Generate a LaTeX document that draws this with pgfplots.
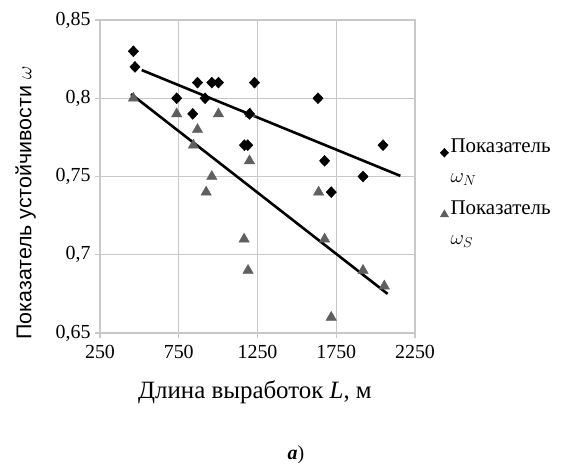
\documentclass[border=0pt]{standalone}
\usepackage{fontspec}
\setmainfont{Liberation Serif}
\setsansfont{Liberation Sans}
\usepackage{pgfplots}
\pgfplotsset{compat=1.18}
\definecolor{gridgray}{RGB}{200,200,200}
\definecolor{trigray}{RGB}{95,95,95}
\begin{document}
\begin{tikzpicture}[x=1bp,y=1bp]
\path[use as bounding box] (0,0) rectangle (584,-464);
\begin{axis}[
  at={(100bp,-333bp)}, anchor=south west,
  scale only axis, width=315bp, height=313bp,
  xmin=250, xmax=2250, ymin=0.65, ymax=0.85,
  xtick={250,750,1250,1750,2250},
  ytick={0.65,0.7,0.75,0.8,0.85},
  grid=major,
  major grid style={gridgray, line width=1.2bp},
  axis line style={gridgray, line width=1.2bp},
  tick style={gridgray, line width=1.2bp},
  tick align=outside, major tick length=5bp,
  xtick pos=bottom, ytick pos=left,
  /pgf/number format/use comma,
  /pgf/number format/1000 sep={},
  /pgf/number format/assume math mode=true,
  tick label style={font=\fontsize{20}{24}\selectfont, black},
  xticklabel style={yshift=-4bp},
  yticklabel style={xshift=-1bp},
  every axis x label/.style={at={(axis description cs:0.492,-0.188)}, anchor=center, font=\fontsize{25}{29}\selectfont},
  every axis y label/.style={at={(axis description cs:-0.236,0.415)}, rotate=90, anchor=center, font=\sffamily\fontsize{21.5}{26}\selectfont},
  xlabel={Длина выработок \textit{L}, м},
  ylabel={Показатель устойчивости $\omega$},
  legend style={at={(axis description cs:1.07,0.645)}, anchor=north west, draw=none, fill=none,
     font=\fontsize{21}{25}\selectfont, row sep=38bp, nodes={anchor=base west}},
  legend image post style={scale=0.8},
  reverse legend,
]
\addplot[only marks, mark=triangle*, mark size=6bp, color=trigray] coordinates {
(462,0.80) (737,0.79) (843,0.77) (869,0.78) (924,0.74) (960,0.75) (1002,0.79)
(1165,0.71) (1190,0.69) (1199,0.76) (1204,0.79) (1638,0.74) (1676,0.71)
(1718,0.66) (1920,0.69) (2055,0.68)
};
\addlegendentry{\begin{tabular}[t]{@{}l@{}}Показатель\\[5bp]$\omega_S$\end{tabular}}
\addplot[only marks, mark=diamond*, mark size=5.5bp, mark options={xscale=1.25}, color=black] coordinates {
(462,0.83) (472,0.82) (737,0.80) (839,0.79) (869,0.81) (917,0.80) (960,0.81)
(1002,0.81) (1167,0.77) (1188,0.77) (1199,0.79) (1231,0.81) (1634,0.80)
(1676,0.76) (1718,0.74) (1920,0.75) (2047,0.77)
};
\addlegendentry{\begin{tabular}[t]{@{}l@{}}Показатель\\[5bp]$\omega_N$\end{tabular}}
\addplot[forget plot, black, line width=2.6bp] coordinates {(515,0.818) (2157,0.7504)};
\addplot[forget plot, black, line width=2.6bp] coordinates {(447,0.8027) (2076,0.675)};
\end{axis}
\node[font=\fontsize{20}{24}\selectfont] at (296,-455) {\textbf{\textit{а}})};
\end{tikzpicture}
\end{document}
